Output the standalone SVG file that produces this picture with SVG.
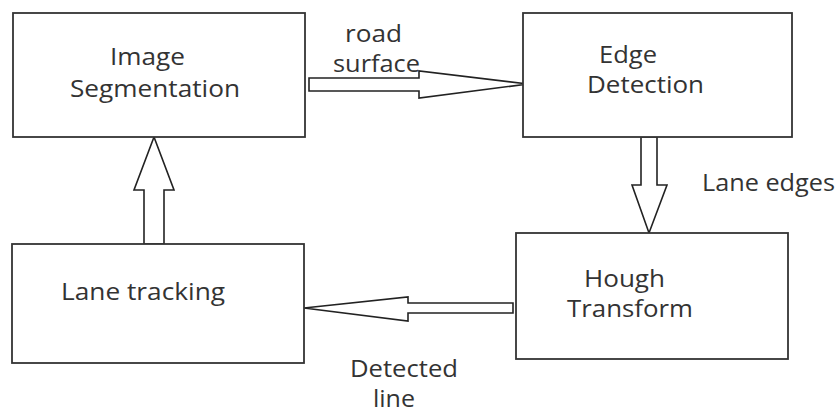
<svg xmlns="http://www.w3.org/2000/svg" width="840" height="413" viewBox="0 0 840 413">
<style>
.box{fill:#fff;stroke:#333;stroke-width:1.8}
.arr{fill:#fff;stroke:#222;stroke-width:1.6;stroke-linejoin:miter}
text{font-family:"Open Sans","Liberation Sans",sans-serif;font-size:23px;fill:#333}
</style>
<rect width="840" height="413" fill="#fff"/>
<g id="connectors">
<polygon class="arr" points="309,78 419,78 419,71 528,84 419,98 419,91 309,91"/>
<polygon class="arr" points="641,137 657,137 657,185 667,185 649,233 632,185 641,185"/>
<polygon class="arr" points="513,303 408,303 408,297 304,308 408,321 408,313 513,313"/>
<polygon class="arr" points="144,244 164,244 164,190 174,190 154,137 134,190 144,190"/>
</g>
<g id="label-road-surface">
<text x="345" y="42" textLength="57" lengthAdjust="spacingAndGlyphs">road</text>
<text x="333" y="72" textLength="87" lengthAdjust="spacingAndGlyphs">surface</text>
</g>
<g id="label-lane-edges">
<text x="702" y="191" textLength="133" lengthAdjust="spacingAndGlyphs">Lane edges</text>
</g>
<g id="label-detected-line">
<text x="350" y="377" textLength="108" lengthAdjust="spacingAndGlyphs">Detected</text>
<text x="373" y="407" textLength="42" lengthAdjust="spacingAndGlyphs">line</text>
</g>
<g id="node-image-segmentation">
<rect class="box" x="13" y="13" width="292" height="124"/>
<text x="110" y="65" textLength="75" lengthAdjust="spacingAndGlyphs">Image</text>
<text x="70" y="97" textLength="170" lengthAdjust="spacingAndGlyphs">Segmentation</text>
</g>
<g id="node-edge-detection">
<rect class="box" x="523" y="13" width="269" height="124"/>
<text x="599" y="63" textLength="58" lengthAdjust="spacingAndGlyphs">Edge</text>
<text x="587" y="93" textLength="117" lengthAdjust="spacingAndGlyphs">Detection</text>
</g>
<g id="node-hough-transform">
<rect class="box" x="516" y="233" width="272" height="126"/>
<text x="584" y="287" textLength="81" lengthAdjust="spacingAndGlyphs">Hough</text>
<text x="567" y="317" textLength="126" lengthAdjust="spacingAndGlyphs">Transform</text>
</g>
<g id="node-lane-tracking">
<rect class="box" x="12" y="244" width="292" height="119"/>
<text x="61" y="300" textLength="164" lengthAdjust="spacingAndGlyphs">Lane tracking</text>
</g>
</svg>
